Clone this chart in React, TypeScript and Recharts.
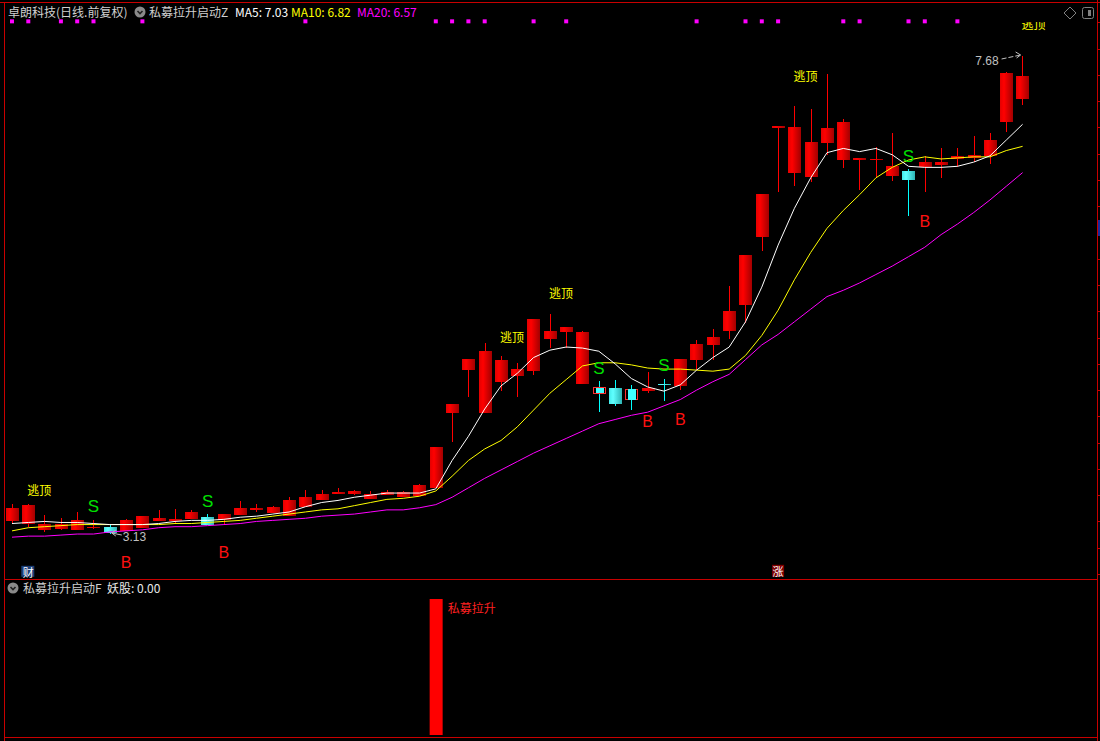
import React from 'react'
import { ComposedChart, Bar, Line, XAxis, YAxis, ReferenceDot, LabelList } from 'recharts'

// 63 daily candles, index 1..63
const open = [3.25, 3.23, 3.17, 3.18, 3.17, 3.19, 3.2, 3.16, 3.19, 3.25, 3.25, 3.27, 3.29, 3.26, 3.31, 3.36, 3.33, 3.3, 3.39, 3.45, 3.52, 3.51, 3.46, 3.5, 3.48, 3.49, 3.57, 4.28, 4.69, 4.28, 4.58, 4.63, 4.68, 4.99, 5.05, 4.56, 4.52, 4.52, 4.51, 4.49, 4.56, 4.54, 4.79, 4.93, 5.06, 5.31, 5.96, 6.99, 6.57, 6.53, 6.85, 6.69, 6.69, 6.7, 6.54, 6.59, 6.62, 6.64, 6.7, 6.71, 6.73, 7.05, 7.27]
const close = [3.38, 3.41, 3.23, 3.23, 3.26, 3.2, 3.14, 3.26, 3.3, 3.28, 3.27, 3.34, 3.22, 3.32, 3.38, 3.38, 3.39, 3.45, 3.48, 3.51, 3.53, 3.54, 3.51, 3.53, 3.53, 3.6, 3.96, 4.37, 4.8, 4.87, 4.79, 4.7, 5.18, 5.06, 5.1, 5.05, 4.48, 4.37, 4.42, 4.52, 4.55, 4.8, 4.94, 5.01, 5.25, 5.79, 6.37, 7.01, 7.0, 6.86, 6.99, 7.05, 6.71, 6.7, 6.63, 6.5, 6.67, 6.67, 6.73, 6.74, 6.88, 7.52, 7.49]
const high = [3.42, 3.42, 3.31, 3.28, 3.34, 3.26, 3.22, 3.27, 3.3, 3.36, 3.37, 3.36, 3.32, 3.32, 3.44, 3.42, 3.4, 3.48, 3.55, 3.55, 3.57, 3.55, 3.54, 3.55, 3.54, 3.61, 3.96, 4.37, 4.8, 4.95, 4.82, 4.76, 5.18, 5.22, 5.1, 5.06, 4.59, 4.6, 4.55, 4.67, 4.61, 4.8, 4.98, 5.08, 5.49, 5.79, 6.37, 7.01, 7.2, 7.18, 7.51, 7.08, 6.71, 6.81, 6.95, 6.6, 6.73, 6.8, 6.8, 6.92, 6.95, 7.53, 7.68]
const low = [3.23, 3.2, 3.15, 3.17, 3.17, 3.18, 3.13, 3.16, 3.19, 3.25, 3.23, 3.27, 3.22, 3.23, 3.31, 3.34, 3.33, 3.3, 3.39, 3.45, 3.52, 3.5, 3.46, 3.5, 3.48, 3.49, 3.57, 4.01, 4.43, 4.28, 4.49, 4.43, 4.64, 4.9, 4.9, 4.56, 4.29, 4.35, 4.31, 4.47, 4.4, 4.5, 4.69, 4.79, 4.99, 5.14, 5.82, 6.39, 6.44, 6.48, 6.74, 6.61, 6.4, 6.52, 6.49, 6.16, 6.39, 6.52, 6.62, 6.67, 6.65, 6.96, 7.21]

const ma5 = [3.23, 3.24, 3.25, 3.24, 3.24, 3.23, 3.22, 3.22, 3.22, 3.23, 3.25, 3.26, 3.26, 3.27, 3.29, 3.3, 3.32, 3.34, 3.39, 3.43, 3.45, 3.48, 3.5, 3.52, 3.52, 3.52, 3.56, 3.83, 4.06, 4.32, 4.54, 4.66, 4.81, 4.88, 4.91, 4.9, 4.87, 4.75, 4.61, 4.53, 4.49, 4.55, 4.69, 4.81, 4.91, 5.15, 5.48, 5.88, 6.23, 6.52, 6.76, 6.8, 6.77, 6.8, 6.74, 6.63, 6.62, 6.62, 6.63, 6.67, 6.73, 6.88, 7.03]
const ma10 = [3.16, 3.19, 3.2, 3.21, 3.22, 3.22, 3.22, 3.22, 3.22, 3.22, 3.23, 3.23, 3.24, 3.25, 3.26, 3.28, 3.3, 3.32, 3.34, 3.36, 3.37, 3.4, 3.43, 3.46, 3.47, 3.49, 3.54, 3.68, 3.83, 3.94, 4.02, 4.15, 4.31, 4.47, 4.6, 4.73, 4.76, 4.76, 4.74, 4.71, 4.7, 4.7, 4.69, 4.68, 4.7, 4.83, 5.02, 5.26, 5.55, 5.81, 6.04, 6.21, 6.36, 6.52, 6.62, 6.69, 6.72, 6.7, 6.71, 6.72, 6.72, 6.78, 6.82]
const ma20 = [3.1, 3.11, 3.11, 3.12, 3.13, 3.13, 3.15, 3.16, 3.17, 3.19, 3.2, 3.2, 3.21, 3.22, 3.23, 3.25, 3.26, 3.27, 3.28, 3.3, 3.31, 3.32, 3.34, 3.36, 3.36, 3.38, 3.41, 3.48, 3.57, 3.66, 3.74, 3.82, 3.9, 3.97, 4.04, 4.11, 4.18, 4.22, 4.26, 4.29, 4.35, 4.41, 4.5, 4.58, 4.65, 4.79, 4.93, 5.03, 5.15, 5.27, 5.39, 5.45, 5.52, 5.6, 5.68, 5.77, 5.86, 5.98, 6.08, 6.19, 6.31, 6.44, 6.57]

// signal markers (candle index, price level of the label)
const topDotIdx = [1, 2, 4, 5, 6, 9, 19, 27, 28, 29, 30, 33, 35, 43, 46, 47, 48, 52, 53, 56, 57, 59]
const topDotLevel = 8.01
const escIdx = [2, 31, 34, 49, 63]
const escLevel = [3.55, 5.01, 5.43, 7.49, 7.99]
const sIdx = [6, 13, 37, 41, 56]
const sLevel = [3.39, 3.44, 4.71, 4.73, 6.72]
const bIdx = [8, 14, 40, 42, 57]
const bLevel = [2.86, 2.95, 4.2, 4.22, 6.1]
const boxedIdx = [37, 39]
const liftIdx = [27]
const yticks = [8, 7.75, 7.5, 7.25, 7, 6.75, 6.5, 6.25, 6, 5.75, 5.5, 5.25, 5, 4.75, 4.5, 4.25, 4, 3.75, 3.5, 3.25, 3, 2.75]

const PMIN = 2.702
const PMAX = 8.213
const MAIN_H = 579
const M = { top: 0, right: 69.25, left: 3.85, bottom: 0 }
const CJK = '"Noto Sans CJK SC", "Noto Sans", sans-serif'
const RED = '#c80000'

const rows = open.map((o, k) => ({
  i: k + 1,
  o,
  c: close[k],
  h: high[k],
  l: low[k],
  range: [low[k], high[k]],
  ma5: ma5[k],
  ma10: ma10[k],
  ma20: ma20[k],
  lift: liftIdx.includes(k + 1) ? 1 : 0,
}))

function Candle(props: any) {
  const { x, y, width, height, payload } = props
  if (x == null || !payload) return <g />
  const { o, c, h, l, i } = payload
  const top = Math.min(y, y + height)
  const k = Math.abs(height) / (h - l)
  const cx = Math.floor(x + width / 2) + 0.5
  const up = c >= o
  const yO = top + (h - o) * k
  const yC = top + (h - c) * k
  const bTop = Math.min(yO, yC)
  const bH = Math.max(1.5, Math.abs(yO - yC))
  const wick = up ? '#ff0000' : '#00ffff'
  const bx = cx - 7
  if (boxedIdx.includes(i)) {
    return (
      <g shapeRendering="crispEdges">
        <line x1={cx} x2={cx} y1={top} y2={top + Math.abs(height)} stroke="#00ffff" />
        <rect x={bx + 0.5} y={bTop} width={12} height={bH + 1} fill="none" stroke="#ff3030" />
        <rect x={cx - 4} y={bTop} width={8} height={bH + 1} fill="#40ffff" />
      </g>
    )
  }
  return (
    <g shapeRendering="crispEdges">
      <line x1={cx} x2={cx} y1={top} y2={top + Math.abs(height)} stroke={wick} />
      <rect x={bx} y={bTop} width={13} height={bH} fill={up ? 'url(#gUp)' : 'url(#gDn)'} />
    </g>
  )
}

function Chevron({ left, top }: { left: number; top: number }) {
  return (
    <svg width={12} height={12} style={{ position: 'absolute', left, top }}>
      <circle cx={6} cy={6} r={5.5} fill="#8a8a8a" />
      <path d="M3.5 5 L6 7.5 L8.5 5" stroke="#202020" strokeWidth={1.6} fill="none" />
    </svg>
  )
}

function Txt({ left, top, color, children }: { left: number; top: number; color: string; children: React.ReactNode }) {
  return (
    <div style={{ position: 'absolute', left, top, color, fontSize: 12, fontFamily: CJK, lineHeight: '14px', whiteSpace: 'nowrap' }}>
      {children}
    </div>
  )
}

export default function App() {
  const priceToY = (v: number) => ((PMAX - v) / (PMAX - PMIN)) * MAIN_H
  return (
    <div style={{ position: 'absolute', left: 0, top: 0, width: 1100, height: 741, background: '#000', overflow: 'hidden' }}>
      <div style={{ position: 'absolute', left: 0, top: 0 }}>
        <ComposedChart width={1100} height={MAIN_H} data={rows} margin={M}>
          <defs>
            <linearGradient id="gUp" x1="0" y1="0" x2="1" y2="0">
              <stop offset="0%" stopColor="#e00000" />
              <stop offset="35%" stopColor="#ff0000" />
              <stop offset="100%" stopColor="#a80000" />
            </linearGradient>
            <linearGradient id="gDn" x1="0" y1="0" x2="1" y2="0">
              <stop offset="0%" stopColor="#40e8e8" />
              <stop offset="35%" stopColor="#60ffff" />
              <stop offset="100%" stopColor="#30b8b8" />
            </linearGradient>
            <clipPath id="plotClip">
              <rect x={0} y={22} width={1100} height={560} />
            </clipPath>
          </defs>
          <XAxis dataKey="i" type="category" hide />
          <YAxis type="number" domain={[PMIN, PMAX]} allowDataOverflow hide />
          <Line dataKey="ma20" type="linear" stroke="#ff00ff" strokeWidth={1} dot={false} activeDot={false} isAnimationActive={false} />
          <Line dataKey="ma10" type="linear" stroke="#ffff00" strokeWidth={1} dot={false} activeDot={false} isAnimationActive={false} />
          <Line dataKey="ma5" type="linear" stroke="#ffffff" strokeWidth={1} dot={false} activeDot={false} isAnimationActive={false} />
          <Bar dataKey="range" barSize={13} shape={(p: any) => <Candle {...p} />} isAnimationActive={false} />
          {topDotIdx.map((d) => (
            <ReferenceDot key={'t' + d} x={d} y={topDotLevel} ifOverflow="visible"
              shape={(p: any) => <rect x={p.cx - 2} y={p.cy - 2} width={4} height={4} fill="#ff00ff" />} />
          ))}
          {escIdx.map((d, k) => (
            <ReferenceDot key={'e' + d} x={d} y={escLevel[k]} ifOverflow="visible"
              shape={(p: any) => (
                <text x={p.cx - 1} y={p.cy} dominantBaseline="central" fill="#ffff00" fontSize={12} fontFamily={CJK} clipPath="url(#plotClip)">逃顶</text>
              )} />
          ))}
          {sIdx.map((d, k) => (
            <ReferenceDot key={'s' + d} x={d} y={sLevel[k]} ifOverflow="visible"
              shape={(p: any) => (
                <text x={p.cx} y={p.cy} dominantBaseline="central" textAnchor="middle" fill="#00e000" fontSize={17} fontFamily="'Liberation Sans', Arial, sans-serif">S</text>
              )} />
          ))}
          {bIdx.map((d, k) => (
            <ReferenceDot key={'b' + d} x={d} y={bLevel[k]} ifOverflow="visible"
              shape={(p: any) => (
                <text x={p.cx} y={p.cy} dominantBaseline="central" textAnchor="middle" fill="#ff1010" fontSize={16} fontFamily="'Liberation Sans', Arial, sans-serif">B</text>
              )} />
          ))}
          <ReferenceDot x={7} y={low[6]} ifOverflow="visible"
            shape={(p: any) => (
              <g fill="#c0c0c0" stroke="#c0c0c0">
                <line x1={p.cx + 12} y1={p.cy + 1} x2={p.cx + 2} y2={p.cy - 1} />
                <path d={`M${p.cx + 2} ${p.cy - 1} l4 -3 M${p.cx + 2} ${p.cy - 1} l4 3`} fill="none" />
                <text x={p.cx + 13} y={p.cy + 3} dominantBaseline="central" stroke="none" fontSize={12} fontFamily="'Liberation Sans', Arial, sans-serif">3.13</text>
              </g>
            )} />
          <ReferenceDot x={63} y={high[62]} ifOverflow="visible"
            shape={(p: any) => (
              <g fill="#c0c0c0" stroke="#c0c0c0">
                <line x1={p.cx - 21} y1={p.cy + 3} x2={p.cx - 2} y2={p.cy - 1} strokeDasharray="5 2" />
                <path d={`M${p.cx - 2} ${p.cy - 1} l-5 -3 M${p.cx - 2} ${p.cy - 1} l-4 3`} fill="none" />
                <text x={p.cx - 24} y={p.cy + 5} dominantBaseline="central" textAnchor="end" stroke="none" fontSize={12} fontFamily="'Liberation Sans', Arial, sans-serif">7.68</text>
              </g>
            )} />
          <ReferenceDot x={2} y={2.78} ifOverflow="visible"
            shape={(p: any) => (
              <g>
                <rect x={p.cx - 7} y={p.cy - 5} width={13} height={11} fill="#1c3f78" />
                <text x={p.cx} y={p.cy + 1} dominantBaseline="central" textAnchor="middle" fill="#fff" fontSize={11} fontFamily={CJK}>财</text>
              </g>
            )} />
          <ReferenceDot x={48} y={2.78} ifOverflow="visible"
            shape={(p: any) => (
              <g>
                <rect x={p.cx - 6} y={p.cy - 6} width={12} height={12} fill="#800000" />
                <text x={p.cx} y={p.cy} dominantBaseline="central" textAnchor="middle" fill="#fff" fontSize={11} fontFamily={CJK}>涨</text>
              </g>
            )} />
        </ComposedChart>
      </div>

      <div style={{ position: 'absolute', left: 0, top: 579 }}>
        <ComposedChart width={1100} height={162} data={rows} margin={{ top: 20, right: M.right, left: M.left, bottom: 6 }}>
          <XAxis dataKey="i" type="category" hide />
          <YAxis type="number" domain={[0, 1]} allowDataOverflow hide />
          <Bar dataKey="lift" barSize={13} fill="#ff0000" isAnimationActive={false}>
            <LabelList dataKey="lift"
              content={(p: any) =>
                p.value ? (
                  <text x={p.x + p.width + 5} y={p.y + 8} dominantBaseline="central" fill="#ff2020" fontSize={12} fontFamily={CJK}>私募拉升</text>
                ) : null
              } />
          </Bar>
        </ComposedChart>
      </div>

      {/* frame */}
      <div style={{ position: 'absolute', left: 0, top: 2, width: 1100, height: 1, background: RED }} />
      <div style={{ position: 'absolute', left: 4, top: 2, width: 1, height: 739, background: RED }} />
      <div style={{ position: 'absolute', left: 1097, top: 0, width: 1, height: 741, background: RED }} />
      <div style={{ position: 'absolute', left: 4, top: 579, width: 1094, height: 1, background: RED }} />
      <div style={{ position: 'absolute', left: 4, top: 737, width: 1094, height: 1, background: RED }} />
      {yticks.map((v) => (
        <div key={v} style={{ position: 'absolute', left: 1097, top: Math.round(priceToY(v)), width: 3, height: 1, background: RED }} />
      ))}
      <div style={{ position: 'absolute', left: 1098, top: 220, width: 2, height: 16, background: '#1a2a9a' }} />

      {/* header, main panel */}
      <Txt left={8} top={5} color="#d0d0d0">卓朗科技(日线.前复权)</Txt>
      <Chevron left={134} top={6} />
      <Txt left={149} top={5} color="#d0d0d0">私募拉升启动Z</Txt>
      <Txt left={235} top={5} color="#ffffff">MA5: 7.03</Txt>
      <Txt left={291} top={5} color="#ffff00">MA10: 6.82</Txt>
      <Txt left={357} top={5} color="#ff00ff">MA20: 6.57</Txt>
      <svg width={14} height={14} style={{ position: 'absolute', left: 1063, top: 6 }}>
        <path d="M7 1 L13 7 L7 13 L1 7 Z" fill="none" stroke="#808080" />
      </svg>
      <svg width={14} height={14} style={{ position: 'absolute', left: 1081, top: 6 }}>
        <rect x={1.5} y={1.5} width={11} height={11} rx={2} fill="none" stroke="#808080" />
        <rect x={7} y={4} width={3} height={6} fill="#808080" />
      </svg>

      {/* header, lower panel */}
      <Chevron left={7} top={582} />
      <Txt left={23} top={581} color="#d0d0d0">私募拉升启动F</Txt>
      <Txt left={107} top={581} color="#e8e8e8">妖股: 0.00</Txt>
    </div>
  )
}
